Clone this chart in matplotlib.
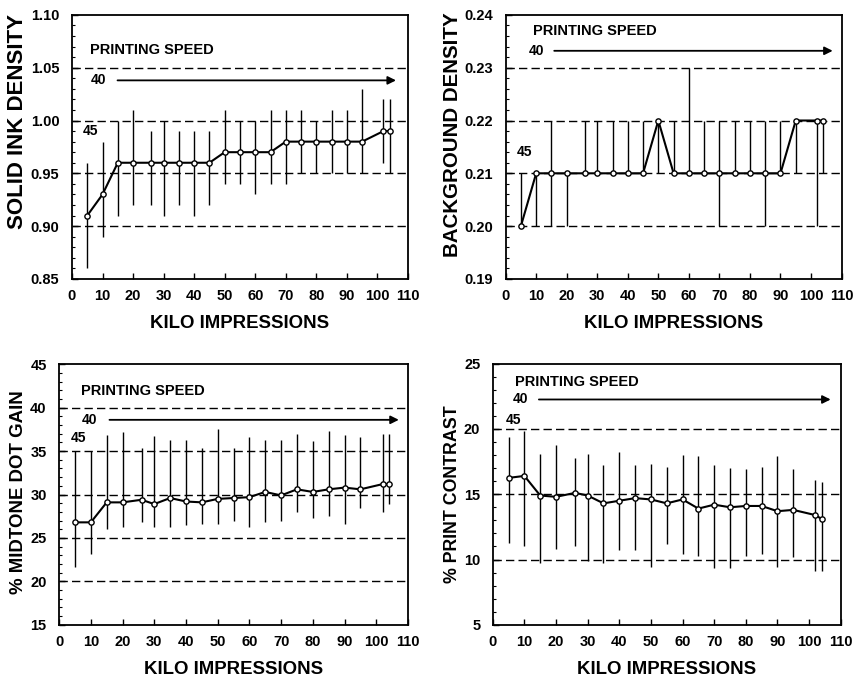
import matplotlib.pyplot as plt
import numpy as np
from matplotlib.ticker import MultipleLocator, FormatStrFormatter

plt.rcParams['font.family'] = ['Liberation Sans', 'DejaVu Sans']
plt.rcParams['font.weight'] = 'bold'

# kilo impressions
kilo = [5, 10, 15, 20, 26, 30, 35, 40, 45, 50, 55, 60, 65, 70, 75, 80, 85, 90, 95, 102, 104]

# solid ink density: mean, low, high
ink_mean = [0.91, 0.93, 0.96, 0.96, 0.96, 0.96, 0.96, 0.96, 0.96, 0.97, 0.97,
            0.97, 0.97, 0.98, 0.98, 0.98, 0.98, 0.98, 0.98, 0.99, 0.99]
ink_low = [0.86, 0.89, 0.91, 0.92, 0.92, 0.91, 0.92, 0.91, 0.92, 0.94, 0.94,
           0.93, 0.94, 0.94, 0.95, 0.95, 0.95, 0.95, 0.95, 0.96, 0.95]
ink_high = [0.96, 0.98, 1.00, 1.01, 0.99, 1.00, 0.99, 0.99, 0.99, 1.01, 1.00,
            1.00, 1.01, 1.01, 1.01, 1.00, 1.01, 1.01, 1.03, 1.02, 1.02]

# background density
bg_mean = [0.20, 0.21, 0.21, 0.21, 0.21, 0.21, 0.21, 0.21, 0.21, 0.22, 0.21,
           0.21, 0.21, 0.21, 0.21, 0.21, 0.21, 0.21, 0.22, 0.22, 0.22]
bg_low = [0.20, 0.20, 0.20, 0.20, 0.21, 0.21, 0.21, 0.21, 0.21, 0.21, 0.21,
          0.21, 0.21, 0.20, 0.21, 0.21, 0.20, 0.21, 0.21, 0.20, 0.21]
bg_high = [0.21, 0.21, 0.22, 0.21, 0.22, 0.22, 0.22, 0.22, 0.22, 0.22, 0.22,
           0.23, 0.22, 0.22, 0.22, 0.22, 0.22, 0.22, 0.22, 0.22, 0.22]

# % midtone dot gain
dot_mean = [26.8, 26.8, 29.1, 29.1, 29.4, 28.9, 29.6, 29.2, 29.1, 29.5, 29.6,
            29.7, 30.3, 29.9, 30.6, 30.3, 30.6, 30.8, 30.6, 31.2, 31.2]
dot_low = [21.7, 23.2, 26.0, 26.3, 26.8, 26.3, 26.3, 26.5, 26.6, 26.6, 27.0,
           26.3, 26.8, 26.9, 28.0, 27.3, 27.5, 26.6, 28.4, 28.0, 28.9]
dot_high = [35.0, 35.0, 36.8, 37.2, 35.4, 36.7, 36.3, 36.3, 35.4, 37.5, 35.4,
            36.6, 36.3, 36.3, 37.0, 36.2, 37.3, 36.9, 36.6, 37.0, 37.0]

# % print contrast
pc_mean = [16.25, 16.4, 14.9, 14.8, 15.1, 14.9, 14.3, 14.5, 14.7, 14.6, 14.3,
           14.6, 13.9, 14.2, 14.0, 14.1, 14.1, 13.7, 13.8, 13.4, 13.1]
pc_low = [11.3, 11.0, 9.7, 10.8, 11.0, 9.9, 9.7, 10.7, 10.7, 9.4, 11.2,
          10.4, 10.3, 9.35, 9.35, 10.3, 10.4, 9.4, 10.2, 9.1, 9.1]
pc_high = [19.4, 19.8, 18.1, 18.8, 17.8, 18.1, 17.2, 18.2, 17.2, 17.35, 17.1,
           18.0, 17.9, 17.2, 17.0, 16.9, 17.1, 17.9, 16.9, 16.1, 15.9]

panels = [
    dict(rect=[0.084, 0.588, 0.392, 0.390], mean=ink_mean, low=ink_low, high=ink_high,
         ylim=(0.85, 1.10), major=0.05, minor=0.01, fmt='%.2f',
         ylabel='SOLID INK DENSITY', ysize=16, ylab_y=0.595,
         title_xy=(6, 1.067), t40=(6, 1.038), arrow=(14, 107, 1.038), t45=(3.5, 0.990)),
    dict(rect=[0.590, 0.588, 0.392, 0.390], mean=bg_mean, low=bg_low, high=bg_high,
         ylim=(0.19, 0.24), major=0.01, minor=0.002, fmt='%.2f',
         ylabel='BACKGROUND DENSITY', ysize=14.8, ylab_y=0.545,
         title_xy=(9, 0.2370), t40=(7.5, 0.2332), arrow=(15, 108, 0.2332), t45=(3.5, 0.2140)),
    dict(rect=[0.069, 0.077, 0.407, 0.385], mean=dot_mean, low=dot_low, high=dot_high,
         ylim=(15, 45), major=5, minor=1, fmt='%d',
         ylabel='% MIDTONE DOT GAIN', ysize=13.4, ylab_y=0.51,
         title_xy=(7, 41.9), t40=(7, 38.6), arrow=(15, 108, 38.6), t45=(3.8, 36.5)),
    dict(rect=[0.575, 0.077, 0.406, 0.386], mean=pc_mean, low=pc_low, high=pc_high,
         ylim=(5, 25), major=5, minor=1, fmt='%d',
         ylabel='% PRINT CONTRAST', ysize=12.8, ylab_y=0.5,
         title_xy=(6.9, 23.6), t40=(6.3, 22.25), arrow=(13.7, 107.7, 22.25), t45=(4.2, 20.7)),
]

fig = plt.figure(figsize=(8.57, 6.77), dpi=100)

for p in panels:
    ax = fig.add_axes(p['rect'])
    mean = np.array(p['mean'])
    yerr = [mean - np.array(p['low']), np.array(p['high']) - mean]
    ax.errorbar(kilo, mean, yerr=yerr, fmt='-o', color='black', lw=1.5,
                elinewidth=1.0, capsize=0, ms=3.8, mfc='white', mec='black',
                mew=1.0, zorder=3)
    ax.set_xlim(0, 110)
    ax.set_ylim(*p['ylim'])
    ax.xaxis.set_major_locator(MultipleLocator(10))
    ax.yaxis.set_major_locator(MultipleLocator(p['major']))
    ax.yaxis.set_minor_locator(MultipleLocator(p['minor']))
    ax.yaxis.set_major_formatter(FormatStrFormatter(p['fmt']))
    lo, hi = p['ylim']
    for g in np.arange(lo + p['major'], hi - p['major'] / 2, p['major']):
        ax.axhline(g, color='black', lw=1.0, ls=(0, (6, 3)), zorder=1)
    ax.tick_params(direction='in', length=4, width=1, labelsize=10.5)
    ax.tick_params(axis='x', pad=7)
    ax.tick_params(axis='y', pad=9)
    ax.tick_params(which='minor', direction='in', length=2.5, width=0.8)
    for lab in ax.get_xticklabels() + ax.get_yticklabels():
        lab.set_fontweight('bold')
    for s in ax.spines.values():
        s.set_linewidth(1.3)
    ax.set_xlabel('KILO IMPRESSIONS', fontsize=13.4, fontweight='bold', labelpad=9)
    ax.set_ylabel(p['ylabel'], fontsize=p['ysize'], fontweight='bold', labelpad=2)
    ax.yaxis.label.set_y(p['ylab_y'])

    ax.text(*p['title_xy'], 'PRINTING SPEED', fontsize=10.5, fontweight='bold', va='center')
    ax.text(*p['t40'], '40', fontsize=10, fontweight='bold', va='center')
    ax.text(*p['t45'], '45', fontsize=10, fontweight='bold', va='center')
    x0, x1, ya = p['arrow']
    ax.annotate('', xy=(x1, ya), xytext=(x0, ya),
                arrowprops=dict(arrowstyle='-|>', color='black', lw=1.3,
                                mutation_scale=12))

fig.savefig('out.png', dpi=100)
